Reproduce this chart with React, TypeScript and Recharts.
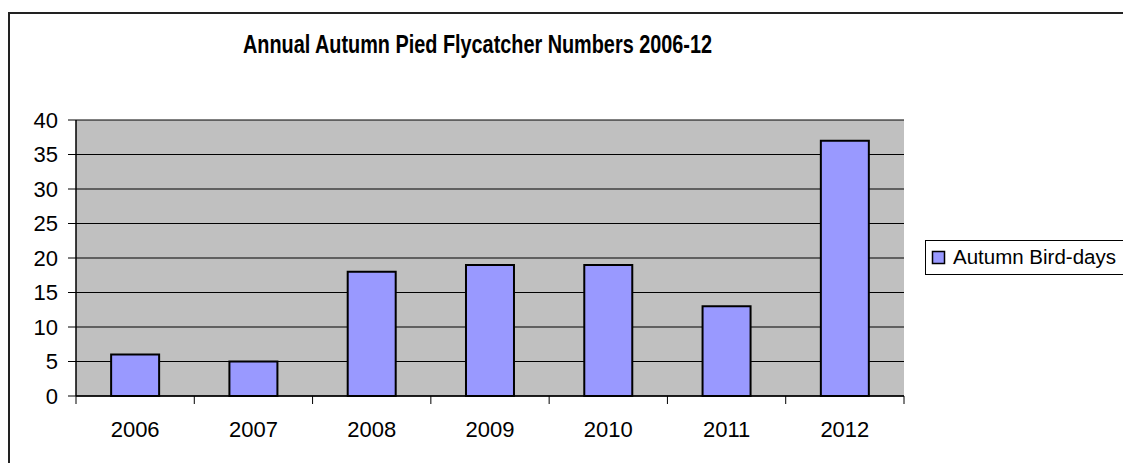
import React from "react";
import { BarChart, Bar, XAxis, YAxis, CartesianGrid } from "recharts";

const TITLE = "Annual Autumn Pied Flycatcher Numbers 2006-12";
const SERIES_NAME = "Autumn Bird-days";
const YEARS = ["2006", "2007", "2008", "2009", "2010", "2011", "2012"];
const BIRD_DAYS = [6, 5, 18, 19, 19, 13, 37];
const Y_TICKS = [0, 5, 10, 15, 20, 25, 30, 35, 40];

const BAR_FILL = "#9999FF";
const FONT = "'Liberation Sans', Arial, sans-serif";

const data = YEARS.map((y, i) => ({ year: y, birdDays: BIRD_DAYS[i] }));

const XTick = (props: any) => {
  const { x, y, payload, index, width } = props;
  const n = YEARS.length;
  const half =
    payload && payload.offset > 0 ? payload.offset : width / n / 2;
  const axisY = y - 25;
  return (
    <g>
      <line x1={x - half} x2={x - half} y1={axisY} y2={axisY + 8} stroke="#000" strokeWidth={1} />
      {index === n - 1 && (
        <line x1={x + half} x2={x + half} y1={axisY} y2={axisY + 8} stroke="#000" strokeWidth={1} />
      )}
      <text x={x} y={y} dy="0.71em" textAnchor="middle" fontSize={22} fontFamily={FONT} fill="#000">
        {payload.value}
      </text>
    </g>
  );
};

export default function App() {
  return (
    <div
      style={{
        position: "absolute",
        left: 0,
        top: 0,
        width: 1123,
        height: 463,
        overflow: "hidden",
        background: "#fff",
      }}
    >
      <BarChart
        width={1123}
        height={463}
        data={data}
        margin={{ top: 120, right: 219, bottom: 27, left: 8 }}
        barCategoryGap="29.7%"
      >
        <CartesianGrid vertical={false} stroke="#000" strokeWidth={1} fill="#C0C0C0" fillOpacity={1} />
        <XAxis
          dataKey="year"
          height={40}
          interval={0}
          tickLine={false}
          tickSize={0}
          tickMargin={25}
          axisLine={{ stroke: "#000", strokeWidth: 1.5 }}
          tick={<XTick />}
        />
        <XAxis
          xAxisId="top"
          orientation="top"
          dataKey="year"
          height={0}
          tick={false}
          tickLine={false}
          axisLine={{ stroke: "#808080", strokeWidth: 2 }}
        />
        <YAxis
          width={68}
          domain={[0, 40]}
          ticks={Y_TICKS}
          interval={0}
          tickSize={8}
          tickMargin={10}
          axisLine={{ stroke: "#000", strokeWidth: 1.5 }}
          tickLine={{ stroke: "#000" }}
          tick={{ fontSize: 22, fontFamily: FONT, fill: "#000" }}
        />
        <YAxis
          yAxisId="right"
          orientation="right"
          width={0}
          domain={[0, 40]}
          tick={false}
          tickLine={false}
          axisLine={{ stroke: "#808080", strokeWidth: 2 }}
        />
        <Bar
          dataKey="birdDays"
          name={SERIES_NAME}
          fill={BAR_FILL}
          stroke="#000"
          strokeWidth={2}
          isAnimationActive={false}
        />
      </BarChart>
      <svg
        width={1123}
        height={463}
        style={{ position: "absolute", left: 0, top: 0, pointerEvents: "none" }}
      >
        <path d="M9,463 V13 H1123" fill="none" stroke="#222" strokeWidth={2} />
        <text
          x={477.5}
          y={53}
          textAnchor="middle"
          fontSize={25}
          fontWeight="bold"
          fontFamily={FONT}
          fill="#000"
          textLength={469}
          lengthAdjust="spacingAndGlyphs"
        >
          {TITLE}
        </text>
        <rect x={925.5} y={240.5} width={210} height={34} fill="#fff" stroke="#000" strokeWidth={1} />
        <rect x={932.5} y={251.5} width={12} height={12} fill={BAR_FILL} stroke="#000" strokeWidth={1.5} />
        <text x={953} y={264} fontSize={20.5} fontFamily={FONT} fill="#000">
          {SERIES_NAME}
        </text>
      </svg>
    </div>
  );
}
